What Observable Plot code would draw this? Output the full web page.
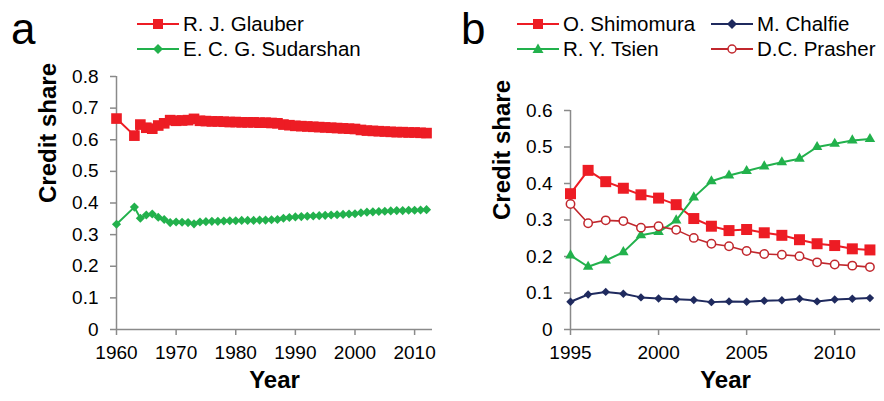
<!DOCTYPE html>
<html><head><meta charset="utf-8">
<script src="https://cdn.jsdelivr.net/npm/d3@7"></script>
<script src="https://cdn.jsdelivr.net/npm/@observablehq/plot@0.6"></script>
<style>
body{margin:0;background:#fff;font-family:"Liberation Sans",Arial,sans-serif;}
#wrap{position:relative;width:884px;height:401px;overflow:hidden;background:#fff}
.panel{position:absolute;top:0}
.letter{position:absolute;font-size:44px;line-height:44px;color:#000}
.lt{position:absolute;font-size:20.5px;line-height:24px;color:#000;white-space:nowrap}
.ls{position:absolute;overflow:visible}
</style>
</head><body>
<div id="wrap"></div>
<script>
// ---------- Panel a data ----------
const yearsA = [1960,1963,1964,1965,1966,1967,1968,1969,1970,1971,1972,1973,1974,1975,1976,1977,1978,1979,1980,1981,1982,1983,1984,1985,1986,1987,1988,1989,1990,1991,1992,1993,1994,1995,1996,1997,1998,1999,2000,2001,2002,2003,2004,2005,2006,2007,2008,2009,2010,2011,2012];
const glauber = [0.667,0.613,0.648,0.638,0.635,0.645,0.652,0.662,0.660,0.661,0.662,0.666,0.660,0.659,0.658,0.658,0.657,0.656,0.656,0.655,0.655,0.655,0.654,0.654,0.653,0.652,0.648,0.646,0.644,0.643,0.642,0.641,0.640,0.639,0.638,0.637,0.636,0.635,0.634,0.631,0.629,0.628,0.627,0.626,0.625,0.624,0.624,0.623,0.623,0.622,0.621];
const sudarshan = [0.333,0.387,0.352,0.362,0.365,0.355,0.348,0.338,0.340,0.339,0.338,0.334,0.340,0.341,0.342,0.342,0.343,0.344,0.344,0.345,0.345,0.345,0.346,0.346,0.347,0.348,0.352,0.354,0.356,0.357,0.358,0.359,0.360,0.361,0.362,0.363,0.364,0.365,0.366,0.369,0.371,0.372,0.373,0.374,0.375,0.376,0.376,0.377,0.377,0.378,0.379];
const xTicksA = [1960,1970,1980,1990,2000,2010];
const yTicksA = [0,0.1,0.2,0.3,0.4,0.5,0.6,0.7,0.8];

// ---------- Panel b data ----------
const yearsB = [1995,1996,1997,1998,1999,2000,2001,2002,2003,2004,2005,2006,2007,2008,2009,2010,2011,2012];
const shimomura = [0.372,0.436,0.405,0.387,0.369,0.360,0.342,0.304,0.283,0.271,0.274,0.265,0.258,0.246,0.235,0.230,0.221,0.218];
const tsien = [0.203,0.172,0.189,0.212,0.258,0.267,0.299,0.362,0.406,0.422,0.434,0.447,0.458,0.468,0.500,0.509,0.518,0.522];
const chalfie = [0.076,0.096,0.103,0.098,0.088,0.085,0.083,0.081,0.075,0.077,0.076,0.079,0.080,0.084,0.077,0.082,0.084,0.086];
const prasher = [0.344,0.291,0.299,0.297,0.279,0.283,0.273,0.251,0.235,0.228,0.215,0.207,0.205,0.201,0.184,0.178,0.175,0.171];
const xTicksB = [1995,2000,2005,2010];
const yTicksB = [0,0.1,0.2,0.3,0.4,0.5,0.6];

const RED = "#ed1c24", GREEN = "#22b14c", NAVY = "#1f2a5e", DRED = "#c1272d", AX = "#8a8a8a";
const fmtY = d => d === 0 ? "0" : d.toFixed(1);

function rows(years, vals){ return years.map((x,i)=>({x, y: vals[i]})); }

function axes(xTicks, yTicks, x0){
  return [
    Plot.axisY({ticks: yTicks, tickSize: 6, tickPadding: 12, stroke: AX, fill: "#000", fontSize: 19, tickFormat: fmtY, label: null, strokeWidth: 1.5}),
    Plot.axisX({ticks: xTicks, tickSize: 6, tickPadding: 10, stroke: AX, fill: "#000", fontSize: 19, tickFormat: d => String(d), label: null, strokeWidth: 1.5}),
    Plot.ruleX([x0], {stroke: AX, strokeWidth: 1.5}),
    Plot.ruleY([0], {stroke: AX, strokeWidth: 1.5}),
    Plot.text(["Credit share"], {text: d => d, frameAnchor: "left", dx: -68, rotate: -90, fontSize: 24, fontWeight: "bold", fill: "#000"}),
    Plot.text(["Year"], {text: d => d, frameAnchor: "bottom", dy: 58, fontSize: 24, fontWeight: "bold", fill: "#000"})
  ];
}

const gA = rows(yearsA, glauber), sA = rows(yearsA, sudarshan);
const plotA = Plot.plot({
  width: 442, height: 401,
  marginLeft: 116, marginRight: 10, marginTop: 76, marginBottom: 72,
  style: {fontFamily: "Liberation Sans, Arial, sans-serif", background: "transparent", overflow: "visible"},
  x: {domain: [1960, 2013]},
  y: {domain: [0, 0.8]},
  marks: [
    ...axes(xTicksA, yTicksA, 1960),
    Plot.line(gA, {x: "x", y: "y", stroke: RED, strokeWidth: 2}),
    Plot.dot(gA, {x: "x", y: "y", symbol: "square", r: 6, fill: RED}),
    Plot.line(sA, {x: "x", y: "y", stroke: GREEN, strokeWidth: 2}),
    Plot.dot(sA, {x: "x", y: "y", symbol: "diamond2", r: 4.1, fill: GREEN})
  ]
});

const shB = rows(yearsB, shimomura), tsB = rows(yearsB, tsien), chB = rows(yearsB, chalfie), prB = rows(yearsB, prasher);
const plotB = Plot.plot({
  width: 442, height: 401,
  marginLeft: 128, marginRight: 4, marginTop: 110, marginBottom: 72,
  style: {fontFamily: "Liberation Sans, Arial, sans-serif", background: "transparent", overflow: "visible"},
  x: {domain: [1995, 2012.6]},
  y: {domain: [0, 0.6]},
  marks: [
    ...axes(xTicksB, yTicksB, 1995),
    Plot.line(shB, {x: "x", y: "y", stroke: RED, strokeWidth: 2}),
    Plot.dot(shB, {x: "x", y: "y", symbol: "square", r: 6.2, fill: RED}),
    Plot.line(tsB, {x: "x", y: "y", stroke: GREEN, strokeWidth: 2}),
    Plot.dot(tsB, {x: "x", y: "y", symbol: "triangle", r: 3.9, fill: GREEN}),
    Plot.line(chB, {x: "x", y: "y", stroke: NAVY, strokeWidth: 2}),
    Plot.dot(chB, {x: "x", y: "y", symbol: "diamond2", r: 3.8, fill: NAVY}),
    Plot.line(prB, {x: "x", y: "y", stroke: DRED, strokeWidth: 1.6}),
    Plot.dot(prB, {x: "x", y: "y", symbol: "circle", r: 4.2, fill: "#fff", stroke: DRED, strokeWidth: 1.5})
  ]
});

const wrap = document.getElementById("wrap");
plotA.classList.add("panel"); plotA.style.left = "0px";
plotB.classList.add("panel"); plotB.style.left = "442px";
wrap.appendChild(plotA); wrap.appendChild(plotB);

function letter(t, left){
  const d = document.createElement("div"); d.className = "letter"; d.textContent = t;
  d.style.left = left + "px"; d.style.top = "7px"; wrap.appendChild(d);
}
letter("a", 11); letter("b", 461);

const NS = "http://www.w3.org/2000/svg";
function legendItem(x0, cy, color, sym, label){
  const svg = document.createElementNS(NS, "svg");
  svg.setAttribute("class", "ls"); svg.setAttribute("width", 44); svg.setAttribute("height", 20);
  svg.style.left = x0 + "px"; svg.style.top = (cy - 10) + "px";
  const ln = document.createElementNS(NS, "line");
  ln.setAttribute("x1", 0); ln.setAttribute("x2", 42); ln.setAttribute("y1", 10); ln.setAttribute("y2", 10);
  ln.setAttribute("stroke", color); ln.setAttribute("stroke-width", 2); svg.appendChild(ln);
  let m;
  if (sym === "square") { m = document.createElementNS(NS, "rect"); m.setAttribute("x", 16); m.setAttribute("y", 5); m.setAttribute("width", 10); m.setAttribute("height", 10); m.setAttribute("fill", color); }
  else if (sym === "diamond") { m = document.createElementNS(NS, "path"); m.setAttribute("d", "M21,5L26,10L21,15L16,10Z"); m.setAttribute("fill", color); }
  else if (sym === "triangle") { m = document.createElementNS(NS, "path"); m.setAttribute("d", "M21,4.5L26.5,14L15.5,14Z"); m.setAttribute("fill", color); }
  else { m = document.createElementNS(NS, "circle"); m.setAttribute("cx", 21); m.setAttribute("cy", 10); m.setAttribute("r", 4); m.setAttribute("fill", "#fff"); m.setAttribute("stroke", color); m.setAttribute("stroke-width", 1.5); }
  svg.appendChild(m);
  wrap.appendChild(svg);
  const t = document.createElement("div"); t.className = "lt"; t.textContent = label;
  t.style.left = (x0 + 46) + "px"; t.style.top = (cy - 12) + "px"; wrap.appendChild(t);
}
legendItem(137, 24, RED, "square", "R. J. Glauber");
legendItem(137, 49, GREEN, "diamond", "E. C. G. Sudarshan");
legendItem(517, 24, RED, "square", "O. Shimomura");
legendItem(517, 49, GREEN, "triangle", "R. Y. Tsien");
legendItem(711, 24, NAVY, "diamond", "M. Chalfie");
legendItem(711, 49, DRED, "circle", "D.C. Prasher");
</script>
</body></html>
